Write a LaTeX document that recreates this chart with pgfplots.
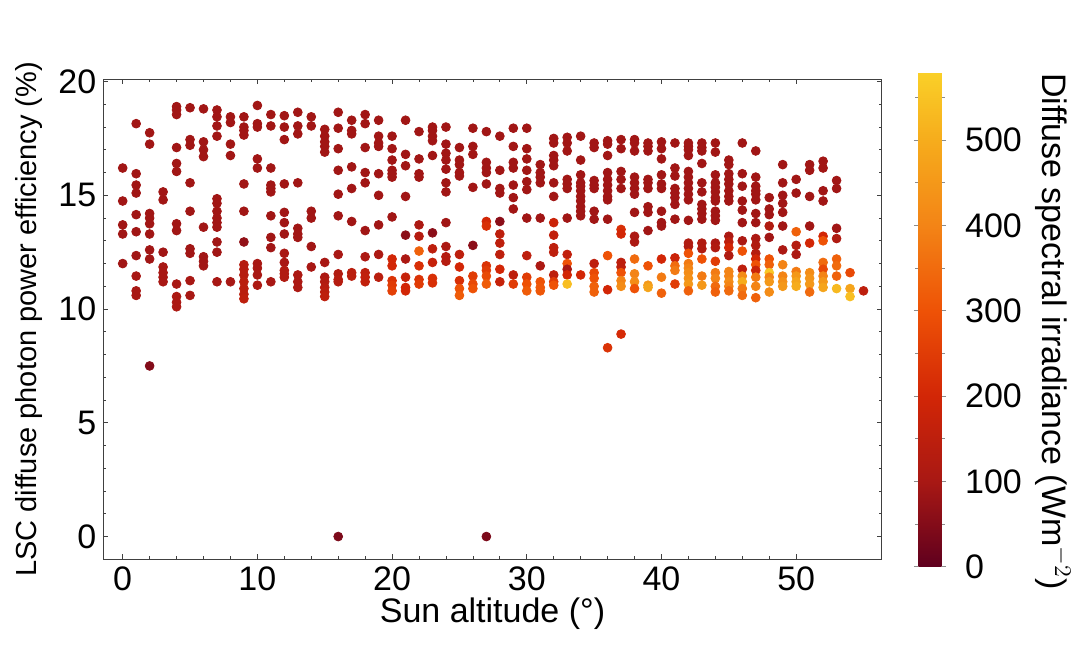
\documentclass[border=0pt]{standalone}
\usepackage{pgfplots}
\usepackage{pgfplotstable}
\usepackage{fontspec}
\setmainfont{Liberation Sans}
\pgfplotsset{compat=1.18}
\pgfplotstableread{
x y c
0 16.2 90
0 14.75 90
0 13.7 90
0 13.3 90
0 12.0 90
1 18.15 90
1 15.95 90
1 15.45 90
1 15.1 90
1 14.15 90
1 13.4 90
1 12.35 90
1 11.45 100
1 10.8 100
1 10.6 100
2 17.75 90
2 17.25 90
2 14.2 90
2 14.0 90
2 13.75 90
2 13.3 90
2 12.6 90
2 12.2 90
2 7.5 50
3 15.15 90
3 14.8 90
3 12.5 90
3 11.85 100
3 11.6 100
3 11.4 100
3 11.2 100
4 18.9 90
4 18.75 90
4 18.55 90
4 17.1 90
4 16.4 90
4 16.05 90
4 13.75 90
4 13.45 90
4 11.1 100
4 10.55 110
4 10.3 110
4 10.1 110
5 18.85 90
5 17.45 90
5 17.2 90
5 15.55 90
5 14.3 90
5 12.65 90
5 12.45 90
5 11.25 100
5 10.6 100
6 18.8 90
6 17.35 90
6 17.0 90
6 16.7 90
6 13.6 90
6 12.3 90
6 12.1 90
6 11.9 90
7 18.75 90
7 18.45 90
7 18.05 90
7 17.6 90
7 14.85 90
7 14.65 90
7 14.3 90
7 14.0 90
7 13.8 90
7 13.6 90
7 12.95 90
7 12.5 90
7 11.2 100
8 18.45 90
8 18.2 90
8 17.25 90
8 16.75 90
8 11.2 100
9 18.45 90
9 18.0 90
9 17.85 90
9 17.65 90
9 15.5 90
9 14.3 90
9 12.95 70
9 11.95 130
9 11.75 130
9 11.5 130
9 11.2 140
9 10.9 140
9 10.65 140
9 10.45 150
10 18.95 90
10 18.15 90
10 18.0 90
10 16.6 90
10 16.2 90
10 12.0 100
10 11.8 100
10 11.5 100
10 11.05 110
11 18.55 90
11 18.05 90
11 16.2 90
11 15.45 90
11 15.3 90
11 15.15 90
11 14.1 90
11 13.15 90
11 12.7 90
11 11.2 100
12 18.5 90
12 18.0 90
12 17.45 90
12 15.5 90
12 14.25 90
12 13.8 90
12 13.3 90
12 12.45 100
12 12.05 100
12 11.7 120
12 11.55 120
12 11.4 120
13 18.65 90
13 18.05 90
13 17.7 90
13 15.55 90
13 13.55 90
13 13.3 90
13 13.15 90
13 11.5 110
13 11.2 110
13 10.95 110
14 18.45 90
14 18.05 90
14 14.3 90
14 14.0 90
14 12.75 90
14 11.85 100
15 17.9 90
15 17.6 90
15 17.35 90
15 17.15 90
15 16.9 90
15 12.05 100
15 11.4 110
15 11.2 120
15 10.95 130
15 10.75 140
15 10.55 150
16 18.65 90
16 17.95 90
16 17.05 90
16 16.1 90
16 15.05 90
16 14.1 90
16 12.4 100
16 11.55 120
16 11.3 130
16 11.2 130
16 0 40
17 18.3 90
17 17.85 90
17 17.7 90
17 16.25 90
17 15.3 90
17 13.85 90
17 11.6 140
17 11.45 140
18 18.55 90
18 18.15 90
18 17.1 90
18 16.0 90
18 15.55 90
18 13.45 90
18 12.3 110
18 11.6 150
18 11.4 160
18 11.2 160
19 18.3 90
19 17.6 90
19 17.3 90
19 17.15 90
19 15.95 90
19 15.0 90
19 13.7 90
19 12.4 110
19 11.4 140
20 17.6 90
20 17.05 90
20 16.55 90
20 16.1 90
20 15.95 90
20 15.8 90
20 14.05 90
20 12.2 200
20 11.9 200
20 11.25 230
20 11.05 250
20 10.8 260
21 18.3 90
21 16.8 90
21 16.3 90
21 14.95 90
21 13.25 60
21 12.2 110
21 11.4 170
21 10.95 200
21 10.8 200
22 17.8 90
22 16.6 90
22 15.95 90
22 15.8 90
22 13.7 110
22 13.2 130
22 12.55 330
22 11.9 220
22 11.3 230
22 11.1 250
23 18.0 90
23 17.85 90
23 17.6 90
23 17.4 90
23 16.75 90
23 13.35 60
23 12.65 150
23 12.05 170
23 11.35 220
23 11.15 220
24 18.0 90
24 17.25 90
24 16.85 90
24 16.55 90
24 16.15 90
24 15.55 90
24 15.15 90
24 13.8 90
24 12.75 110
24 12.3 130
24 12.1 130
25 17.1 90
25 16.55 90
25 16.35 90
25 16.0 90
25 15.85 90
25 12.4 150
25 11.85 200
25 11.25 220
25 10.9 300
25 10.6 320
26 17.95 90
26 17.15 90
26 16.8 90
26 15.35 90
26 12.8 60
26 11.45 250
26 11.1 280
26 10.9 300
27 17.8 90
27 16.45 90
27 16.2 90
27 16.0 90
27 15.5 90
27 13.85 200
27 13.65 220
27 11.9 230
27 11.7 250
27 11.45 280
27 11.1 320
27 0 40
28 17.6 90
28 16.1 90
28 15.3 90
28 15.1 90
28 13.85 60
28 13.3 150
28 12.9 150
28 12.4 150
28 11.75 200
28 11.2 170
29 17.95 90
29 17.15 90
29 16.45 90
29 16.2 90
29 15.45 90
29 14.9 90
29 14.4 90
29 11.5 150
29 11.1 250
30 17.95 90
30 17.05 90
30 16.6 90
30 16.1 90
30 15.6 90
30 15.25 90
30 14.0 90
30 12.35 150
30 11.4 250
30 11.1 300
30 10.8 320
31 16.35 90
31 16.0 90
31 15.8 90
31 15.55 90
31 14.0 90
31 11.9 110
31 11.2 300
31 10.95 310
31 10.8 310
32 17.5 90
32 17.3 90
32 16.75 90
32 16.55 90
32 16.3 90
32 15.55 90
32 14.95 90
32 13.8 180
32 13.25 160
32 12.7 150
32 12.5 150
32 11.5 150
32 11.2 250
32 11.05 300
33 17.55 90
33 17.3 90
33 16.95 90
33 15.7 90
33 15.5 90
33 15.3 90
33 14.0 90
33 12.4 160
33 12.0 300
33 11.75 100
33 11.5 200
33 11.1 540
34 17.6 90
34 16.55 90
34 15.9 90
34 15.55 90
34 15.4 90
34 15.2 90
34 14.95 90
34 14.75 90
34 14.5 90
34 14.3 90
34 14.1 90
34 11.5 200
35 17.3 90
35 17.1 90
35 15.65 90
35 15.45 90
35 15.3 90
35 14.3 90
35 13.95 90
35 12.0 150
35 11.6 280
35 11.35 300
35 11.0 330
35 10.75 330
36 17.4 90
36 17.25 90
36 16.75 90
36 16.0 90
36 15.7 90
36 15.45 90
36 15.2 90
36 14.95 90
36 14.8 90
36 13.95 90
36 12.35 300
36 10.85 200
36 8.3 230
37 17.45 90
37 17.05 90
37 16.05 90
37 15.7 90
37 15.3 90
37 13.5 220
37 13.3 200
37 12.05 150
37 11.85 150
37 11.6 300
37 11.25 400
37 11.0 420
37 8.9 210
38 17.45 90
38 17.3 90
38 16.95 90
38 15.8 90
38 15.55 90
38 15.3 90
38 15.05 90
38 14.25 90
38 13.2 110
38 12.95 110
38 12.2 350
38 11.55 400
38 11.2 420
38 10.9 300
39 17.3 90
39 17.15 90
39 16.95 90
39 15.7 90
39 15.55 90
39 15.3 90
39 14.5 90
39 14.25 90
39 13.45 90
39 11.9 300
39 11.05 450
39 10.95 480
40 17.35 90
40 17.05 90
40 16.6 90
40 15.9 90
40 15.5 90
40 15.3 90
40 14.3 90
40 13.8 90
40 13.65 90
40 12.2 200
40 11.4 380
40 10.7 330
41 17.3 90
41 16.2 90
41 15.85 90
41 15.3 90
41 15.1 90
41 14.9 90
41 14.6 90
41 13.95 90
41 12.25 180
41 11.9 350
41 11.7 380
41 11.1 250
42 17.3 90
42 17.15 90
42 17.0 90
42 16.75 90
42 16.05 90
42 15.8 90
42 15.55 90
42 15.3 90
42 15.05 90
42 14.8 90
42 13.9 90
42 12.9 120
42 12.75 120
42 12.45 300
42 12.0 380
42 11.8 400
42 11.6 420
42 11.35 430
42 11.1 450
42 10.8 330
43 17.3 90
43 17.1 90
43 16.95 90
43 16.4 90
43 15.55 90
43 15.15 90
43 14.6 90
43 14.4 90
43 14.2 90
43 13.95 90
43 12.9 120
43 12.65 120
43 12.2 300
43 11.45 380
43 11.05 450
44 17.3 90
44 16.9 90
44 15.9 90
44 15.55 90
44 15.35 90
44 15.15 90
44 14.9 90
44 14.75 90
44 14.3 90
44 14.1 90
44 13.9 90
44 12.9 110
44 12.7 120
44 12.1 250
44 11.6 380
44 11.35 400
44 11.0 350
44 10.75 330
45 16.55 90
45 16.35 90
45 15.95 90
45 15.7 90
45 15.5 90
45 15.2 90
45 14.95 90
45 14.75 90
45 13.2 110
45 12.95 150
45 12.7 200
45 12.35 120
45 11.65 400
45 11.45 400
45 11.2 420
45 11.0 400
45 10.8 350
46 17.3 90
46 15.95 90
46 15.4 90
46 14.75 90
46 14.35 90
46 13.8 90
46 13.0 110
46 12.55 300
46 11.75 150
46 11.45 420
46 11.2 500
46 10.9 380
46 10.6 350
47 16.95 90
47 15.8 90
47 15.4 90
47 15.2 90
47 15.05 90
47 14.8 90
47 14.2 90
47 13.8 90
47 13.1 110
47 12.8 120
47 12.45 130
47 12.2 200
47 11.95 300
47 11.7 180
47 11.4 380
47 11.0 400
47 10.5 330
48 14.9 90
48 14.4 90
48 14.15 90
48 13.65 120
48 13.15 90
48 12.2 300
48 11.95 330
48 11.6 560
48 11.4 400
48 11.2 450
48 10.75 420
49 16.35 90
49 15.55 90
49 15.0 90
49 14.65 90
49 14.25 90
49 13.65 90
49 12.6 110
49 11.95 400
49 11.45 400
49 11.2 430
49 11.0 450
50 15.7 90
50 15.1 90
50 13.4 330
50 12.8 130
50 12.4 110
50 11.65 380
50 11.45 450
50 11.2 480
50 11.0 500
51 16.35 90
51 16.1 90
51 14.95 90
51 13.65 90
51 12.9 200
51 11.6 420
51 11.35 440
51 11.1 450
51 10.75 350
52 16.5 90
52 16.2 90
52 15.2 90
52 14.75 90
52 13.2 200
52 13.0 300
52 12.05 350
52 11.75 280
52 11.45 400
52 11.2 450
52 10.95 480
53 15.65 90
53 15.3 90
53 13.55 90
53 13.1 120
53 12.2 330
53 11.9 350
53 11.45 330
53 10.9 530
54 11.6 280
54 10.9 480
54 10.55 540
55 10.8 150
}\data
\begin{document}
\begin{tikzpicture}
\begin{axis}[
  scale only axis,
  width=389.2pt, height=240pt,
  xmin=-1.44, xmax=56.35, ymin=-1, ymax=20.1,
  xtick={0,10,...,50}, minor x tick num=4,
  ytick={0,5,...,20}, minor y tick num=4,
  tick align=inside,
  major tick length=2.6pt, minor tick length=1.5pt,
  axis line style={draw=black!75, line width=0.5pt},
  tick style={draw=black!75, line width=0.4pt},
  /pgf/number format/assume math mode=true,
  tick label style={font=\fontsize{17}{20}\selectfont},
  label style={font=\fontsize{17}{20}\selectfont},
  xlabel={Sun altitude (°)},
  xlabel style={yshift=3pt},
  ylabel={LSC diffuse photon power efficiency (\%)},
  ylabel style={font=\fontsize{14.5}{17}\selectfont, yshift=1pt},
  colormap={sunset}{rgb255(0)=(95,0,30); rgb255(100)=(168,24,20); rgb255(200)=(210,38,6); rgb255(300)=(238,82,6); rgb255(400)=(243,132,22); rgb255(500)=(246,172,28); rgb255(580)=(250,208,40)},
  point meta min=0, point meta max=580,
  colorbar,
  colorbar shift/.style={xshift=18.3pt, yshift=-3.7pt},
  colorbar style={
    at={(parent axis.south east)}, anchor=south west,
    scale only axis, width=11.7pt, height=247.35pt,
    axis line style={draw=none},
    ytick={0,100,...,500}, minor ytick={50,150,...,550},
    tick align=outside, yticklabel pos=right,
    major tick length=2.2pt, minor tick length=1.5pt,
    tick style={draw=black!45, line width=0.4pt},
    /pgf/number format/assume math mode=true,
    yticklabel style={font=\fontsize{17}{20}\selectfont, xshift=6pt},
    ylabel={Diffuse spectral irradiance (Wm$^{-2}$)},
    ylabel style={font=\fontsize{17}{20}\selectfont, rotate=180, xshift=6pt},
  },
]
\addplot[scatter, only marks, mark=*, mark size=2.2pt,
  scatter src=explicit,
  scatter/use mapped color={draw=mapped color, fill=mapped color}]
  table[x=x, y=y, meta=c] {\data};
\end{axis}
\path (-51.65pt,-49.85pt) rectangle (490.35pt,279.65pt);
\end{tikzpicture}
\end{document}
